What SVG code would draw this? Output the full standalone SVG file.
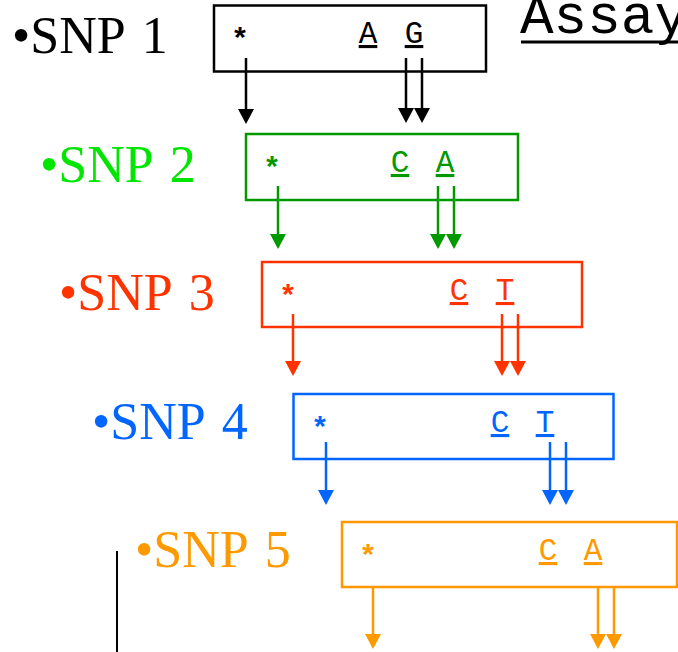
<svg xmlns="http://www.w3.org/2000/svg" width="678" height="652" viewBox="0 0 678 652">
  <style>
    .lbl { font-family: "Liberation Serif", "Times New Roman", serif; font-size: 52px; word-spacing: 5px; }
    .base { font-family: "Liberation Mono", "Courier New", monospace; font-size: 31px; text-anchor: middle; text-decoration: underline; }
    .star { font-family: "Liberation Mono", "Courier New", monospace; font-size: 30px; font-weight: bold; text-anchor: middle; }
    .box { fill: none; stroke-width: 2.5; }
    .arr { stroke-width: 2.5; fill: none; }
    text { stroke: none; }
  </style>
  <defs>
    <marker id="mk" markerUnits="userSpaceOnUse" markerWidth="16" markerHeight="16" viewBox="0 -8 15 16" refX="0" refY="0" orient="auto"><path d="M0,-8 L15,0 L0,8 Z" fill="#000000"/></marker>
    <marker id="mg" markerUnits="userSpaceOnUse" markerWidth="16" markerHeight="16" viewBox="0 -8 15 16" refX="0" refY="0" orient="auto"><path d="M0,-8 L15,0 L0,8 Z" fill="#009900"/></marker>
    <marker id="mr" markerUnits="userSpaceOnUse" markerWidth="16" markerHeight="16" viewBox="0 -8 15 16" refX="0" refY="0" orient="auto"><path d="M0,-8 L15,0 L0,8 Z" fill="#ff3300"/></marker>
    <marker id="mb" markerUnits="userSpaceOnUse" markerWidth="16" markerHeight="16" viewBox="0 -8 15 16" refX="0" refY="0" orient="auto"><path d="M0,-8 L15,0 L0,8 Z" fill="#0066ff"/></marker>
    <marker id="mo" markerUnits="userSpaceOnUse" markerWidth="16" markerHeight="16" viewBox="0 -8 15 16" refX="0" refY="0" orient="auto"><path d="M0,-8 L15,0 L0,8 Z" fill="#ff9900"/></marker>
  </defs>

  <g id="title">
    <text x="520" y="33" font-family="Liberation Mono, Courier New, monospace" font-size="56" fill="#000000">Assay</text>
    <line x1="521" y1="42" x2="678" y2="42" stroke="#000000" stroke-width="3"/>
  </g>

  <g id="snp1">
    <text class="lbl" x="12" y="53" fill="#000000">•SNP 1</text>
    <rect class="box" x="214" y="5.5" width="272" height="66" stroke="#000000"/>
    <text class="star" x="240" y="49" fill="#000000">*</text>
    <text class="base" x="368" y="43" fill="#000000">A</text>
    <text class="base" x="414" y="43" fill="#000000">G</text>
  </g>

  <g id="snp2">
    <text class="lbl" x="40" y="182" fill="#00e600">•SNP 2</text>
    <rect class="box" x="246" y="134" width="272" height="66" stroke="#009900"/>
    <text class="star" x="272" y="178" fill="#009900">*</text>
    <text class="base" x="400" y="172" fill="#009900">C</text>
    <text class="base" x="445" y="172" fill="#009900">A</text>
  </g>

  <g id="snp3">
    <text class="lbl" x="59" y="310" fill="#ff3300">•SNP 3</text>
    <rect class="box" x="262" y="262" width="320" height="65" stroke="#ff3300"/>
    <text class="star" x="288" y="306" fill="#ff3300">*</text>
    <text class="base" x="459" y="300" fill="#ff3300">C</text>
    <text class="base" x="505" y="300" fill="#ff3300">T</text>
  </g>

  <g id="snp4">
    <text class="lbl" x="92" y="439" fill="#0066ff">•SNP 4</text>
    <rect class="box" x="293.5" y="394" width="320" height="65" stroke="#0066ff"/>
    <text class="star" x="320" y="438" fill="#0066ff">*</text>
    <text class="base" x="500" y="432" fill="#0066ff">C</text>
    <text class="base" x="545" y="432" fill="#0066ff">T</text>
  </g>

  <g id="snp5">
    <text class="lbl" x="135" y="567" fill="#ff9900">•SNP 5</text>
    <rect class="box" x="342" y="522" width="335" height="65" stroke="#ff9900"/>
    <text class="star" x="368" y="566" fill="#ff9900">*</text>
    <text class="base" x="548" y="560" fill="#ff9900">C</text>
    <text class="base" x="593" y="560" fill="#ff9900">A</text>
  </g>

  <g id="margin-line">
    <line x1="117" y1="551" x2="117" y2="652" stroke="#000000" stroke-width="2"/>
  </g>

  <g id="connectors">
    <line class="arr" x1="246" y1="58" x2="246" y2="109" stroke="#000000" marker-end="url(#mk)"/>
    <line class="arr" x1="406" y1="58" x2="406" y2="108" stroke="#000000" marker-end="url(#mk)"/>
    <line class="arr" x1="422" y1="58" x2="422" y2="108" stroke="#000000" marker-end="url(#mk)"/>

    <line class="arr" x1="278" y1="186" x2="278" y2="234" stroke="#009900" marker-end="url(#mg)"/>
    <line class="arr" x1="438" y1="186" x2="438" y2="234" stroke="#009900" marker-end="url(#mg)"/>
    <line class="arr" x1="454" y1="186" x2="454" y2="234" stroke="#009900" marker-end="url(#mg)"/>

    <line class="arr" x1="293" y1="314" x2="293" y2="361" stroke="#ff3300" marker-end="url(#mr)"/>
    <line class="arr" x1="502" y1="314" x2="502" y2="361" stroke="#ff3300" marker-end="url(#mr)"/>
    <line class="arr" x1="518" y1="314" x2="518" y2="361" stroke="#ff3300" marker-end="url(#mr)"/>

    <line class="arr" x1="326" y1="442" x2="326" y2="490" stroke="#0066ff" marker-end="url(#mb)"/>
    <line class="arr" x1="550" y1="442" x2="550" y2="490" stroke="#0066ff" marker-end="url(#mb)"/>
    <line class="arr" x1="566" y1="442" x2="566" y2="490" stroke="#0066ff" marker-end="url(#mb)"/>

    <line class="arr" x1="373" y1="587" x2="373" y2="634" stroke="#ff9900" marker-end="url(#mo)"/>
    <line class="arr" x1="598" y1="587" x2="598" y2="634" stroke="#ff9900" marker-end="url(#mo)"/>
    <line class="arr" x1="614" y1="587" x2="614" y2="634" stroke="#ff9900" marker-end="url(#mo)"/>
  </g>
</svg>
